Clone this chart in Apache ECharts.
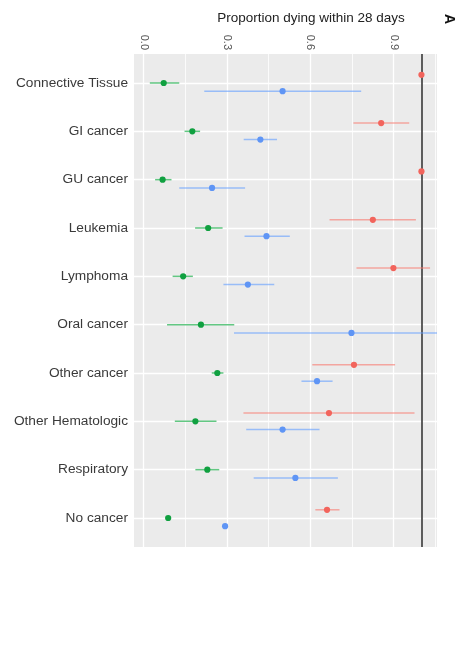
<!DOCTYPE html>
<html lang="en">
<head>
<meta charset="UTF-8">
<title>Proportion dying within 28 days</title>
<script src="https://cdn.jsdelivr.net/npm/echarts@6/dist/echarts.min.js"></script>
<style>
  html, body { margin: 0; padding: 0; background: #fff; }
  #main { width: 464px; height: 668px; }
</style>
</head>
<body>
<div id="main"></div>
<script type="text/javascript">
var categories = ['Connective Tissue', 'GI cancer', 'GU cancer', 'Leukemia', 'Lymphoma',
    'Oral cancer', 'Other cancer', 'Other Hematologic', 'Respiratory', 'No cancer'];
var xTicks = [0, 0.3, 0.6, 0.9];
var xMinor = [0.15, 0.45, 0.75, 1.05];
var refLine = 1.0;

// red group (top of each row)
var redEst = [1.0, 0.855, 1.0, 0.825, 0.899, null, 0.757, 0.667, null, 0.66];
var redLo  = [1.0, 0.755, 1.0, 0.669, 0.766, null, 0.607, 0.359, null, 0.618];
var redHi  = [1.0, 0.956, 1.0, 0.980, 1.031, null, 0.905, 0.975, null, 0.705];

// green group (middle)
var greenEst = [0.072, 0.175, 0.068, 0.232, 0.142, 0.206, 0.265, 0.186, 0.229, 0.088];
var greenLo  = [0.022, 0.147, 0.041, 0.185, 0.104, 0.084, 0.245, 0.112, 0.186, 0.084];
var greenHi  = [0.128, 0.203, 0.100, 0.284, 0.177, 0.326, 0.287, 0.262, 0.272, 0.092];

// blue group (bottom)
var blueEst = [0.50, 0.42, 0.246, 0.442, 0.375, 0.748, 0.624, 0.50, 0.546, 0.293];
var blueLo  = [0.218, 0.36, 0.128, 0.363, 0.287, 0.325, 0.568, 0.369, 0.396, 0.290];
var blueHi  = [0.783, 0.48, 0.365, 0.526, 0.470, 1.060, 0.680, 0.633, 0.699, 0.297];

var chartDom = document.getElementById('main');
var myChart = echarts.init(chartDom);
var font = 'Liberation Sans, Arial, sans-serif';

function rows(est, lo, hi, offset) {
    var out = [];
    categories.forEach(function (c, i) {
        if (est[i] != null) out.push([est[i], lo[i], hi[i], i + offset]);
    });
    return out;
}

function dotSeries(name, est, lo, hi, color, lineColor, offset) {
    return {
        name: name,
        type: 'custom',
        z: 5,
        clip: true,
        data: rows(est, lo, hi, offset),
        encode: { x: 0, y: 3 },
        renderItem: function (params, api) {
            var y = api.value(3);
            var p = api.coord([api.value(0), y]);
            var a = api.coord([api.value(1), y]);
            var b = api.coord([api.value(2), y]);
            return {
                type: 'group',
                children: [
                    { type: 'line', shape: { x1: a[0], y1: a[1], x2: b[0], y2: b[1] },
                      style: { stroke: lineColor, lineWidth: 1.5 } },
                    { type: 'circle', shape: { cx: p[0], cy: p[1], r: 3.1 },
                      style: { fill: color } }
                ]
            };
        }
    };
}

var gridMarks = [];
xTicks.forEach(function (v) { gridMarks.push({ xAxis: v, lineStyle: { width: 1.3 } }); });
xMinor.forEach(function (v) { gridMarks.push({ xAxis: v, lineStyle: { width: 0.8 } }); });
categories.forEach(function (c, i) { gridMarks.push({ yAxis: i, lineStyle: { width: 1.3 } }); });

var option = {
    animation: false,
    grid: {
        left: 134, right: 27, top: 54, bottom: 121,
        show: true, backgroundColor: '#ebebeb', borderWidth: 0
    },
    graphic: [
        { type: 'text', x: 311, y: 18,
          style: { text: 'Proportion dying within 28 days', fontSize: 13.5, fill: '#222',
                   fontFamily: font, align: 'center', verticalAlign: 'middle' } },
        { type: 'text', x: 449, y: 19, rotation: -Math.PI / 2,
          style: { text: 'A', fontSize: 14, fontWeight: 'bold', fill: '#111',
                   fontFamily: font, align: 'center', verticalAlign: 'middle' } }
    ],
    xAxis: {
        type: 'value',
        position: 'top',
        min: -0.035,
        max: 1.056,
        axisLine: { show: false },
        axisTick: { show: true, customValues: xTicks, length: 3, lineStyle: { color: '#444' } },
        axisLabel: {
            customValues: xTicks, rotate: -90, margin: 4,
            color: '#555', fontSize: 11, fontFamily: font,
            formatter: function (v) { return v.toFixed(1); }
        },
        splitLine: { show: false }
    },
    yAxis: {
        type: 'value',
        min: -0.6,
        max: 9.6,
        inverse: true,
        axisLine: { show: false },
        axisTick: { show: true, customValues: categories.map(function (c, i) { return i; }),
                    length: 3, lineStyle: { color: '#444' } },
        axisLabel: {
            customValues: categories.map(function (c, i) { return i; }),
            margin: 6, color: '#3a3a3a', fontSize: 13.7, fontFamily: font,
            formatter: function (v) { return categories[Math.round(v)]; }
        },
        splitLine: { show: false }
    },
    series: [
        {
            type: 'scatter',
            data: [],
            silent: true,
            z: 1,
            markLine: {
                silent: true,
                symbol: ['none', 'none'],
                label: { show: false },
                lineStyle: { color: '#ffffff', type: 'solid' },
                data: gridMarks
            }
        },
        dotSeries('red', redEst, redLo, redHi, '#F2645C', 'rgba(248,118,109,0.6)', -0.17),
        dotSeries('green', greenEst, greenLo, greenHi, '#10A040', 'rgba(16,170,64,0.65)', 0),
        dotSeries('blue', blueEst, blueLo, blueHi, '#5F95F5', 'rgba(97,156,255,0.6)', 0.17),
        {
            type: 'scatter',
            data: [],
            silent: true,
            z: 6,
            markLine: {
                silent: true,
                symbol: ['none', 'none'],
                label: { show: false },
                lineStyle: { color: '#4d4d4d', type: 'solid', width: 1.8 },
                data: [{ xAxis: refLine }]
            }
        }
    ]
};

option && myChart.setOption(option);
</script>
</body>
</html>
